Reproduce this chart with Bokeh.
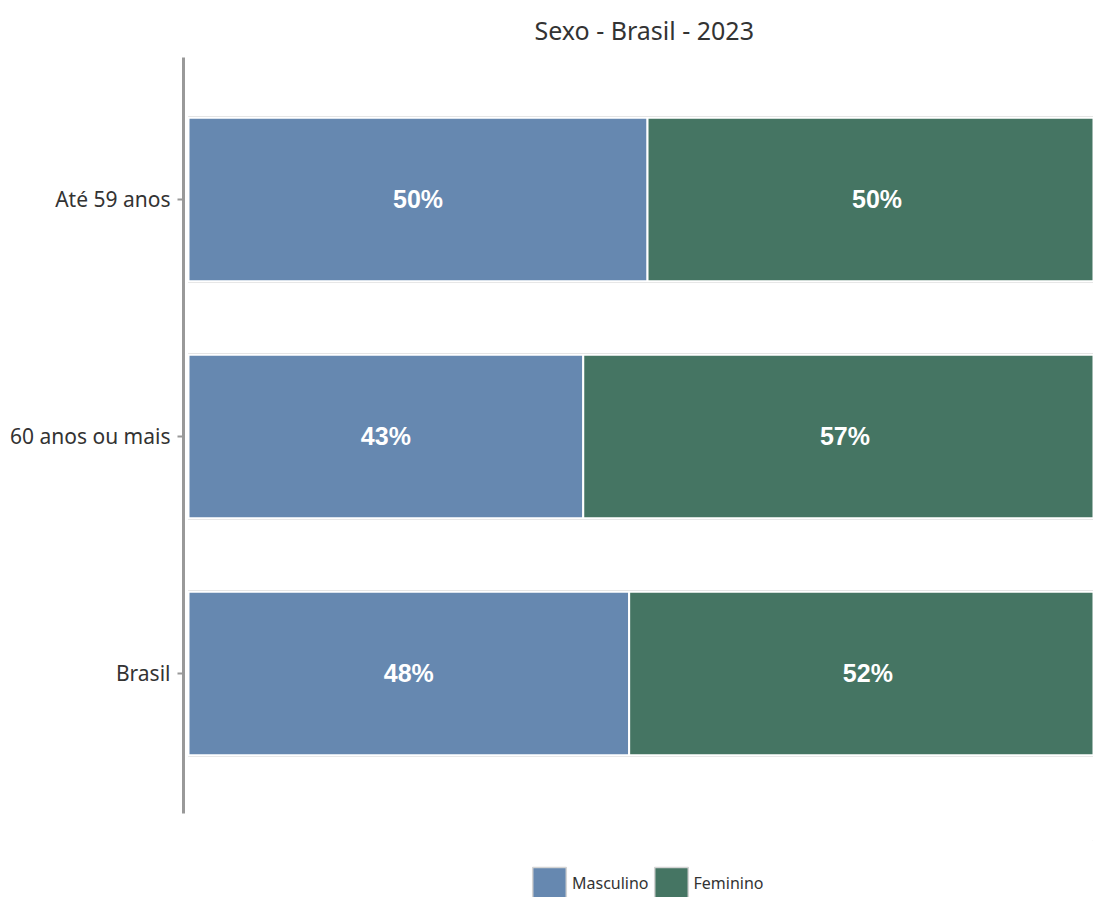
import numpy as np
from bokeh.plotting import figure
from bokeh.layouts import column
from bokeh.models import Range1d, FixedTicker, Title, Legend, LegendItem, ColumnDataSource
from bokeh.core.properties import value
from bokeh.embed import file_html
from bokeh.resources import INLINE

# ---- data ----
categories = ["Até 59 anos", "60 anos ou mais", "Brasil"]
masculino = [50, 43, 48]
feminino = [50, 57, 52]
series_names = ["Masculino", "Feminino"]
colors = ["#6688B0", "#457563"]

n = len(categories)
ypos = list(range(n - 1, -1, -1))  # top to bottom

masc = np.array(masculino, dtype=float)
fem = np.array(feminino, dtype=float)

src = ColumnDataSource(dict(
    y=ypos,
    m_left=np.zeros(n), m_right=masc,
    f_left=masc, f_right=masc + fem,
    m_mid=masc / 2, f_mid=masc + fem / 2,
    m_lbl=[f"{v:.0f}%" for v in masc],
    f_lbl=[f"{v:.0f}%" for v in fem],
    total=masc + fem,
))

p = figure(width=1093, height=840, output_backend="svg", toolbar_location=None,
           x_range=Range1d(-0.545, 98.58), y_range=Range1d(-0.591, 2.599),
           min_border_left=183, min_border_right=0, min_border_top=57,
           min_border_bottom=27)

p.add_layout(Title(text="Sexo - Brasil - 2023", align="left", offset=351,
                   text_font="Noto Sans", text_font_size="25px",
                   text_font_style="normal", text_color="#333333",
                   standoff=21), "above")

# light gray outline behind each bar
p.hbar(y="y", left="m_left", right="total", height=0.70, source=src,
       fill_color=None, line_color="#dcdcdc", line_width=1)

rm = p.hbar(y="y", left="m_left", right="m_right", height=0.69, source=src,
            fill_color=colors[0], line_color="white", line_width=2)
rf = p.hbar(y="y", left="f_left", right="f_right", height=0.69, source=src,
            fill_color=colors[1], line_color="white", line_width=2)

for col, lbl in (("m_mid", "m_lbl"), ("f_mid", "f_lbl")):
    p.text(x=col, y="y", text=lbl, source=src, text_align="center",
           text_baseline="middle", text_color="white",
           text_font=value("Liberation Sans"), text_font_size="25px",
           text_font_style="bold")

p.xaxis.visible = False
p.xgrid.visible = False
p.ygrid.visible = False
p.outline_line_color = None

ya = p.yaxis[0]
ya.ticker = FixedTicker(ticks=ypos)
ya.major_label_overrides = {y: c for y, c in zip(ypos, categories)}
ya.minor_tick_line_color = None
ya.axis_line_color = "#999999"
ya.axis_line_width = 3
ya.major_tick_line_color = "#999999"
ya.major_tick_line_width = 2
ya.major_tick_in = 0
ya.major_tick_out = 6
ya.major_label_standoff = 7
ya.major_label_text_font = "Noto Sans"
ya.major_label_text_font_size = "21px"
ya.major_label_text_color = "#333333"

# ---- legend strip (separate small figure below the chart) ----
lg = figure(width=1093, height=57, output_backend="svg", toolbar_location=None,
            x_range=Range1d(0, 1), y_range=Range1d(0, 1),
            min_border_left=0, min_border_right=0, min_border_top=0,
            min_border_bottom=0)
lg.xaxis.visible = False
lg.yaxis.visible = False
lg.xgrid.visible = False
lg.ygrid.visible = False
lg.outline_line_color = None

# proxy glyphs for the legend keys, kept far outside the visible range
proxy = ColumnDataSource(dict(y=[50], left=[50], right=[51]))
lrs = [lg.hbar(y="y", left="left", right="right", height=1, source=proxy,
               fill_color=c, line_color="#d4d4d4", line_width=1.5) for c in colors]

legend = Legend(items=[LegendItem(label=s, renderers=[r]) for s, r in zip(series_names, lrs)],
                orientation="horizontal", location=(345, -6),
                glyph_width=42, glyph_height=40, label_standoff=2,
                spacing=1, padding=0, margin=0,
                label_text_font="Noto Sans", label_text_font_size="16px",
                label_text_color="#333333",
                border_line_color=None, background_fill_alpha=0)
lg.add_layout(legend, "center")

layout = column(p, lg, spacing=0)
open("out.html", "w").write(file_html(layout, INLINE))
